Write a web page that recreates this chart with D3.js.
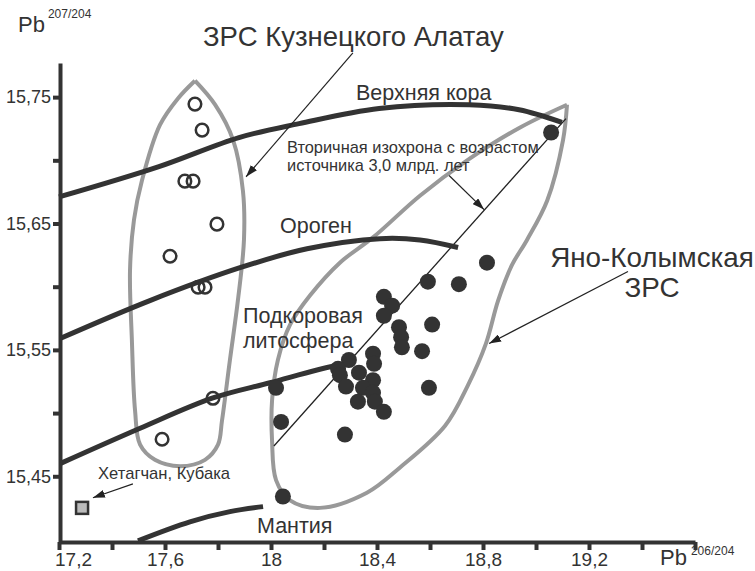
<!DOCTYPE html>
<html>
<head>
<meta charset="utf-8">
<script src="https://cdn.jsdelivr.net/npm/d3@7"></script>
<style>
  body { margin: 0; background: #fff; }
  text { font-family: "Liberation Sans", Arial, sans-serif; fill: #333; }
</style>
</head>
<body>
<div id="chart"></div>
<script>
// --- data (Pb206/204, Pb207/204) ---
// ЗРС Кузнецкого Алатау (open circles)
var kuzPoints = [
  [17.713, 15.7445], [17.740, 15.7239], [17.675, 15.6835], [17.706, 15.6835],
  [17.796, 15.6495], [17.619, 15.6241], [17.725, 15.5996], [17.751, 15.5996],
  [17.781, 15.5117], [17.589, 15.4793]
];
// Яно-Колымская ЗРС (filled circles)
var yanoPoints = [
  [19.057, 15.722], [18.815, 15.619], [18.592, 15.604], [18.709, 15.602],
  [18.426, 15.592], [18.457, 15.585], [18.426, 15.577], [18.608, 15.570],
  [18.483, 15.568], [18.491, 15.560], [18.494, 15.552], [18.570, 15.549],
  [18.385, 15.547], [18.389, 15.539], [18.294, 15.542], [18.253, 15.535],
  [18.332, 15.532], [18.260, 15.530], [18.385, 15.526], [18.283, 15.521],
  [18.347, 15.520], [18.385, 15.516], [18.596, 15.520], [18.328, 15.509],
  [18.392, 15.509], [18.426, 15.501], [18.019, 15.520], [18.038, 15.493],
  [18.279, 15.483], [18.045, 15.434]
];
// Хетагчан, Кубака (square)
var hetagchan = [[17.287, 15.425]];

// model evolution curves
var upperCrust = [[17.2, 15.671], [17.577, 15.695], [17.879, 15.718], [18.106, 15.729],
  [18.408, 15.741], [18.748, 15.744], [18.936, 15.740], [19.098, 15.730]];
var orogen = [[17.204, 15.559], [17.543, 15.589], [17.883, 15.615], [18.136, 15.630],
  [18.411, 15.638], [18.562, 15.637], [18.706, 15.631]];
var subLitho = [[17.204, 15.460], [17.506, 15.488], [17.781, 15.512], [17.996, 15.524],
  [18.234, 15.537], [18.279, 15.538]];
var mantle = [[17.498, 15.399], [17.694, 15.414], [17.845, 15.422], [17.970, 15.426]];
// secondary isochron, source age 3.0 Ga
var isochron = [[18.011, 15.474], [19.113, 15.733]];

// field outlines
var kuzField = [[17.713, 15.763], [17.789, 15.744], [17.857, 15.716], [17.894, 15.676],
  [17.898, 15.637], [17.875, 15.589], [17.845, 15.542], [17.815, 15.494], [17.800, 15.475],
  [17.751, 15.463], [17.657, 15.458], [17.562, 15.463], [17.506, 15.475], [17.487, 15.502],
  [17.475, 15.558], [17.468, 15.613], [17.483, 15.653], [17.513, 15.684], [17.581, 15.728],
  [17.649, 15.749], [17.713, 15.763]];
var yanoField = [[19.117, 15.744], [19.102, 15.716], [19.042, 15.668], [18.966, 15.637],
  [18.909, 15.617], [18.857, 15.589], [18.811, 15.555], [18.743, 15.522], [18.657, 15.490],
  [18.487, 15.457], [18.362, 15.437], [18.185, 15.425], [18.072, 15.431], [18.019, 15.447],
  [18.004, 15.478], [18.004, 15.510], [18.026, 15.542], [18.072, 15.570], [18.147, 15.593],
  [18.260, 15.619], [18.385, 15.639], [18.562, 15.672], [18.740, 15.700], [18.940, 15.726],
  [19.117, 15.744]];

// annotation arrows [from, to]
var arrows = [
  [[18.309, 15.785], [17.906, 15.687]],
  [[18.672, 15.688], [18.804, 15.661]],
  [[19.347, 15.612], [18.823, 15.555]],
  [[17.479, 15.444], [17.328, 15.433]]
];

// ticks
var xTickValues = [17.2, 17.4, 17.6, 17.8, 18.0, 18.2, 18.4, 18.6, 18.8, 19.0, 19.2, 19.4, 19.6];
var xTickLabels = ["17,2", "", "17,6", "", "18", "", "18,4", "", "18,8", "", "19,2", "", ""];
var yTickValues = [15.45, 15.50, 15.55, 15.60, 15.65, 15.70, 15.75];
var yTickLabels = ["15,45", "", "15,55", "", "15,65", "", "15,75"];

var width = 755, height = 571;
var dark = "#333", gray = "#999";

var svg = d3.select("#chart").append("svg")
    .attr("width", width)
    .attr("height", height);

svg.append("defs").append("marker")
    .attr("id", "arrow")
    .attr("markerUnits", "userSpaceOnUse")
    .attr("viewBox", "0 0 12 8")
    .attr("refX", 12).attr("refY", 4)
    .attr("markerWidth", 12).attr("markerHeight", 8)
    .attr("orient", "auto")
  .append("path")
    .attr("d", "M0,0 L12,4 L0,8 Z")
    .attr("fill", "#222");

var x = d3.scaleLinear().domain([17.2, 19.6]).range([59, 695]);
var y = d3.scaleLinear().domain([15.398, 15.777]).range([542, 63]);

var line = d3.line()
    .x(function(d){ return x(d[0]); })
    .y(function(d){ return y(d[1]); })
    .curve(d3.curveCatmullRom.alpha(0.5));
var straight = d3.line()
    .x(function(d){ return x(d[0]); })
    .y(function(d){ return y(d[1]); });

// field outlines
svg.selectAll(".field")
    .data([kuzField, yanoField])
    .enter().append("path")
    .attr("class", "field")
    .attr("d", line)
    .attr("fill", "none")
    .attr("stroke", gray)
    .attr("stroke-width", 4)
    .attr("stroke-linejoin", "miter");

// isochron
svg.append("path")
    .attr("d", straight(isochron))
    .attr("stroke", "#222")
    .attr("stroke-width", 1.3);

// evolution curves
svg.selectAll(".curve")
    .data([upperCrust, orogen, subLitho, mantle])
    .enter().append("path")
    .attr("class", "curve")
    .attr("d", line)
    .attr("fill", "none")
    .attr("stroke", dark)
    .attr("stroke-width", 5);

// arrows
svg.selectAll(".arrow")
    .data(arrows)
    .enter().append("path")
    .attr("class", "arrow")
    .attr("d", straight)
    .attr("stroke", "#222")
    .attr("stroke-width", 1.2)
    .attr("marker-end", "url(#arrow)");

// points
svg.selectAll(".kuz")
    .data(kuzPoints)
    .enter().append("circle")
    .attr("class", "kuz")
    .attr("cx", function(d){ return x(d[0]); })
    .attr("cy", function(d){ return y(d[1]); })
    .attr("r", 6.3)
    .attr("fill", "none")
    .attr("stroke", dark)
    .attr("stroke-width", 2.5);

svg.selectAll(".yano")
    .data(yanoPoints)
    .enter().append("circle")
    .attr("class", "yano")
    .attr("cx", function(d){ return x(d[0]); })
    .attr("cy", function(d){ return y(d[1]); })
    .attr("r", 8)
    .attr("fill", dark);

svg.selectAll(".het")
    .data(hetagchan)
    .enter().append("rect")
    .attr("class", "het")
    .attr("x", function(d){ return x(d[0]) - 6; })
    .attr("y", function(d){ return y(d[1]) - 6; })
    .attr("width", 12).attr("height", 12)
    .attr("fill", "#bbb")
    .attr("stroke", dark)
    .attr("stroke-width", 2.5);

// axes
var xAxis = svg.append("g")
    .attr("transform", "translate(0," + 542 + ")")
    .call(d3.axisBottom(x).tickValues(xTickValues).tickSize(8).tickSizeOuter(0).tickPadding(3)
      .tickFormat(function(d, i){ return xTickLabels[i]; }));
var yAxis = svg.append("g")
    .attr("transform", "translate(60,0)")
    .call(d3.axisLeft(y).tickValues(yTickValues).tickSize(7).tickSizeOuter(0).tickPadding(2)
      .tickFormat(function(d, i){ return yTickLabels[i]; }));

[xAxis, yAxis].forEach(function(g){
  g.select(".domain").attr("stroke", dark).attr("stroke-width", 4);
  g.selectAll(".tick line").attr("stroke", dark).attr("stroke-width", 4);
  g.selectAll(".tick text").attr("fill", dark).style("font-family", "'Liberation Sans', Arial, sans-serif");
});
xAxis.selectAll(".tick text").style("font-size", "19px");
xAxis.selectAll(".tick text").filter(function(d, i){ return i === 0; }).attr("dx", 14);
yAxis.selectAll(".tick text").style("font-size", "18px");

// axis titles
var yTitle = svg.append("text").attr("x", 18).attr("y", 32).style("font-size", "22px");
yTitle.append("tspan").text("Pb");
yTitle.append("tspan").attr("dx", 3).attr("dy", -14).style("font-size", "12px").text("207/204");

var xTitle = svg.append("text").attr("x", 660).attr("y", 565).style("font-size", "22px");
xTitle.append("tspan").text("Pb");
xTitle.append("tspan").attr("dx", 4).attr("dy", -10).style("font-size", "12px").text("206/204");

// labels
function label(txt, px, py, size, anchor) {
  svg.append("text")
      .attr("x", px).attr("y", py)
      .attr("text-anchor", anchor || "start")
      .style("font-size", size + "px")
      .text(txt);
}
label("ЗРС Кузнецкого Алатау", 203, 46, 27.5);
label("Верхняя кора", 356, 100, 21.5);
label("Вторичная изохрона с возрастом", 287, 153, 16.4);
label("источника 3,0 млрд. лет", 287, 171, 16.4);
label("Ороген", 280, 233, 21.5);
label("Подкоровая", 243, 323, 21.5);
label("литосфера", 243, 348, 21.5);
label("Яно-Колымская", 652, 267, 27.8, "middle");
label("ЗРС", 652, 297, 27.8, "middle");
label("Хетагчан, Кубака", 98, 479, 16.6);
label("Мантия", 257, 533, 21.5);
</script>
</body>
</html>
